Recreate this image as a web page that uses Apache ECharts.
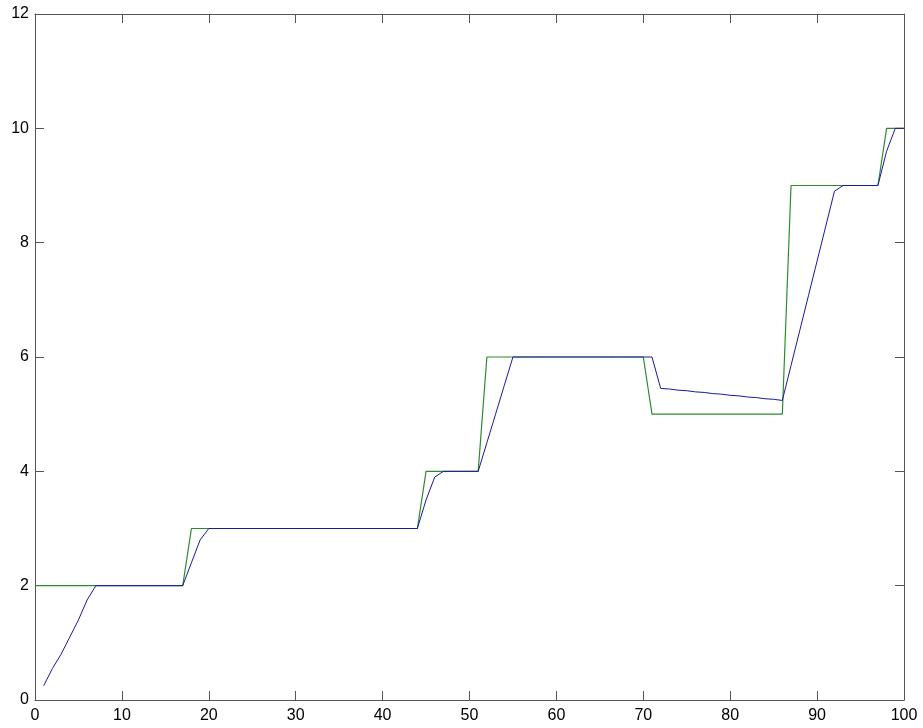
<!DOCTYPE html>
<html>
<head>
<meta charset="utf-8">
<script src="https://cdn.jsdelivr.net/npm/echarts@6/dist/echarts.min.js"></script>
<style>html,body{margin:0;padding:0;background:#fff;}#c{width:923px;height:728px;}</style>
</head>
<body>
<div id="c"></div>
<script>
// Green (target) series, sampled at x = 0..100
var greenX = [0,1,2,3,4,5,6,7,8,9,10,11,12,13,14,15,16,17,18,19,20,21,22,23,24,25,26,27,28,29,30,31,32,33,34,35,36,37,38,39,40,41,42,43,44,45,46,47,48,49,50,51,52,53,54,55,56,57,58,59,60,61,62,63,64,65,66,67,68,69,70,71,72,73,74,75,76,77,78,79,80,81,82,83,84,85,86,87,88,89,90,91,92,93,94,95,96,97,98,99,100];
var greenY = [2,2,2,2,2,2,2,2,2,2,2,2,2,2,2,2,2,2,
  3,3,3,3,3,3,3,3,3,3,3,3,3,3,3,3,3,3,3,3,3,3,3,3,3,3,3,
  4,4,4,4,4,4,4,
  6,6,6,6,6,6,6,6,6,6,6,6,6,6,6,6,6,6,6,
  5,5,5,5,5,5,5,5,5,5,5,5,5,5,5,5,
  9,9,9,9,9,9,9,9,9,9,9,
  10,10,10];
// Blue (estimate) series, sampled at x = 1..100
var blueX = [1,2,3,4,5,6,7,8,9,10,11,12,13,14,15,16,17,18,19,20,21,22,23,24,25,26,27,28,29,30,31,32,33,34,35,36,37,38,39,40,41,42,43,44,45,46,47,48,49,50,51,52,53,54,55,56,57,58,59,60,61,62,63,64,65,66,67,68,69,70,71,72,73,74,75,76,77,78,79,80,81,82,83,84,85,86,87,88,89,90,91,92,93,94,95,96,97,98,99,100];
var blueY = [0.25,0.55,0.8,1.1,1.4,1.75,2,
  2,2,2,2,2,2,2,2,2,2,
  2.4,2.8,
  3,3,3,3,3,3,3,3,3,3,3,3,3,3,3,3,3,3,3,3,3,3,3,3,3,
  3.5,3.9,
  4,4,4,4,4,
  4.5,5.0,5.5,
  6,6,6,6,6,6,6,6,6,6,6,6,6,6,6,6,6,
  5.45,5.44,5.42,5.41,5.39,5.38,5.36,5.35,5.33,5.32,5.30,5.29,5.27,5.26,5.24,
  5.85,6.46,7.07,7.68,8.29,8.9,
  9,9,9,9,9,
  9.6,10,10];
var xTicks = [0,10,20,30,40,50,60,70,80,90,100];
var yTicks = [0,2,4,6,8,10,12];

function pairs(xs, ys){ var out=[]; for (var i=0;i<xs.length;i++) out.push([xs[i], ys[i]]); return out; }

var axisLine = {show:true, onZero:false, lineStyle:{color:'#555', width:1}};
var tick = {show:true, inside:true, length:9, lineStyle:{color:'#555', width:1}};
var lbl = {color:'#000', fontSize:16, fontFamily:'Liberation Sans, Arial, sans-serif'};

var chart = echarts.init(document.getElementById('c'), null, {renderer:'canvas'});
chart.setOption({
  animation:false,
  backgroundColor:'#fff',
  grid:{left:35, right:19, top:14, bottom:28, containLabel:false},
  xAxis:[
    {type:'value', min:xTicks[0], max:xTicks[xTicks.length-1], interval:10, position:'bottom',
     axisLine:axisLine, axisTick:tick, splitLine:{show:false},
     axisLabel:Object.assign({margin:8}, lbl)},
    {type:'value', min:xTicks[0], max:xTicks[xTicks.length-1], interval:10, position:'top',
     axisLine:axisLine, axisTick:tick, splitLine:{show:false}, axisLabel:{show:false}}
  ],
  yAxis:[
    {type:'value', min:yTicks[0], max:yTicks[yTicks.length-1], interval:2, position:'left',
     axisLine:axisLine, axisTick:tick, splitLine:{show:false},
     axisLabel:Object.assign({margin:6}, lbl)},
    {type:'value', min:yTicks[0], max:yTicks[yTicks.length-1], interval:2, position:'right',
     axisLine:axisLine, axisTick:tick, splitLine:{show:false}, axisLabel:{show:false}}
  ],
  series:[
    {type:'line', data:pairs(greenX, greenY), showSymbol:false, symbol:'none',
     lineStyle:{color:'#2f8a2f', width:1.2}, z:2},
    {type:'line', data:pairs(blueX, blueY), showSymbol:false, symbol:'none',
     lineStyle:{color:'#1a1a9a', width:1}, z:3}
  ]
});
</script>
</body>
</html>
